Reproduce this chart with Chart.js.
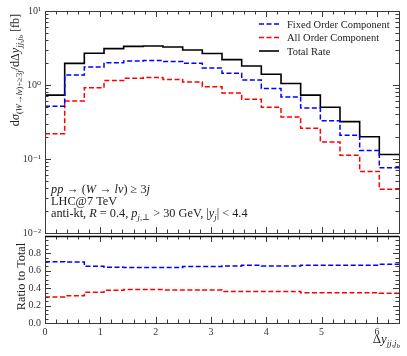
<!DOCTYPE html>
<html>
<head>
<meta charset="utf-8">
<script src="https://cdn.jsdelivr.net/npm/chart.js@4.4.0/dist/chart.umd.min.js"></script>
<style>
  body { margin: 0; background: #fff; width: 407px; height: 356px; overflow: hidden; position: relative; }
  canvas { position: absolute; left: 0; }
  #mainChart { top: 0; }
  #ratioChart { top: 226px; }
</style>
</head>
<body>
<canvas id="mainChart" width="407" height="245"></canvas>
<canvas id="ratioChart" width="407" height="130"></canvas>
<script>
// bin edges in delta y (18 bins)
const binEdges = [0, 0.356, 0.711, 1.067, 1.422, 1.778, 2.133, 2.489, 2.844, 3.2,
                  3.556, 3.911, 4.267, 4.622, 4.978, 5.333, 5.689, 6.044, 6.4];

const totalRate  = [0.73, 1.96, 2.68, 3.10, 3.33, 3.37, 3.26, 2.97, 2.66,
                    2.20, 1.81, 1.40, 1.05, 0.73, 0.50, 0.32, 0.20, 0.115];
const fixedOrder = [0.515, 1.36, 1.75, 2.00, 2.11, 2.14, 2.07, 1.96, 1.70,
                    1.44, 1.17, 0.90, 0.69, 0.49, 0.33, 0.21, 0.13, 0.076];
const allOrder   = [0.22, 0.61, 0.92, 1.15, 1.23, 1.26, 1.19, 1.10, 0.95,
                    0.78, 0.64, 0.50, 0.37, 0.26, 0.17, 0.112, 0.068, 0.039];

const ratioFixed = [0.704, 0.700, 0.652, 0.641, 0.638, 0.637, 0.637, 0.648, 0.648,
                    0.656, 0.663, 0.656, 0.656, 0.663, 0.663, 0.663, 0.663, 0.675];
const ratioAll   = [0.300, 0.313, 0.354, 0.376, 0.384, 0.384, 0.380, 0.380, 0.378,
                    0.362, 0.362, 0.362, 0.362, 0.347, 0.347, 0.347, 0.347, 0.343];

const xTicks = [0, 1, 2, 3, 4, 5, 6];
const logTicks = [0.01, 0.1, 1, 10];
const logTickLabels = ['10\u207B\u00B2', '10\u207B\u00B9', '10\u2070', '10\u00B9'];
const ratioTicks = [0, 0.2, 0.4, 0.6, 0.8];

const FONT = '"Liberation Serif", "DejaVu Serif", serif';
const BLUE = '#0000ff', RED = '#ff0000', BLACK = '#000000';
const DASH = [5, 2.5];

// histogram as step line: left edges + closing point at right edge
function steps(vals) {
  const pts = vals.map((v, i) => ({ x: binEdges[i], y: v }));
  pts.push({ x: binEdges[binEdges.length - 1], y: vals[vals.length - 1] });
  return pts;
}

function ds(label, vals, color, dash, width) {
  return {
    label, data: steps(vals), borderColor: color, borderDash: dash,
    borderWidth: width, stepped: true, pointRadius: 0, fill: false
  };
}

// text with italic / subscript pieces
function partFont(kind, size) {
  let fs = size, off = 0;
  if (kind.startsWith('ss')) { fs = size * 0.55; off = size * 0.36; }
  else if (kind.startsWith('s')) { fs = size * 0.7; off = size * 0.22; }
  const it = kind.endsWith('i');
  return { font: (it ? 'italic ' : '') + fs.toFixed(2) + 'px ' + FONT, off };
}
function richWidth(ctx, parts, size) {
  let w = 0;
  for (const [t, k] of parts) { ctx.font = partFont(k, size).font; w += ctx.measureText(t).width; }
  return w;
}
function drawRich(ctx, parts, x, y, size) {
  let cx = x;
  for (const [t, k] of parts) {
    const f = partFont(k, size);
    ctx.font = f.font;
    ctx.fillText(t, cx, y + f.off);
    cx += ctx.measureText(t).width;
  }
}

function line(ctx, x1, y1, x2, y2) {
  ctx.beginPath(); ctx.moveTo(x1, y1); ctx.lineTo(x2, y2); ctx.stroke();
}

// frame plus inward ticks on all sides
function frameTicks(yMajor, yMinor) {
  return {
    id: 'frameTicks',
    afterDatasetsDraw(chart) {
      const { ctx, chartArea: a, scales: { x, y } } = chart;
      ctx.save();
      ctx.strokeStyle = '#3a3a3a';
      ctx.lineWidth = 1;
      ctx.strokeRect(Math.round(a.left) + 0.5, Math.round(a.top) + 0.5,
                     Math.round(a.right - a.left), Math.round(a.bottom - a.top));
      for (let i = 0; i <= 32; i++) {
        const v = i * 0.2;
        const len = i % 5 === 0 ? 6 : 3.5;
        const px = Math.round(x.getPixelForValue(v)) + 0.5;
        line(ctx, px, a.bottom, px, a.bottom - len);
        line(ctx, px, a.top, px, a.top + len);
      }
      const yt = (vals, len) => vals.forEach(v => {
        const py = Math.round(y.getPixelForValue(v)) + 0.5;
        line(ctx, a.left, py, a.left + len, py);
        line(ctx, a.right, py, a.right - len, py);
      });
      yt(yMajor, 6);
      yt(yMinor, 3.5);
      ctx.restore();
    }
  };
}

const logMinor = [];
[0.01, 0.1, 1].forEach(d => { for (let m = 2; m <= 9; m++) logMinor.push(d * m); });
const ratioMinor = [];
for (let i = 1; i < 20; i++) if (i % 4 !== 0) ratioMinor.push(i * 0.05);

const mainLabels = {
  id: 'mainLabels',
  afterDraw(chart) {
    const ctx = chart.ctx;
    ctx.save();
    ctx.fillStyle = '#222';
    ctx.textBaseline = 'alphabetic';

    // y title
    const yTitle = [['d', 'n'], ['\u03C3', 'i'], ['(', 'sn'], ['W', 'si'], ['\u2192', 'sn'],
      ['l\u03BD', 'si'], [')+\u22653', 'sn'], ['j', 'si'], ['/d\u0394', 'n'], ['y', 'i'],
      ['jj,j', 'si'], ['b', 'ssi'], [' [fb]', 'n']];
    ctx.save();
    ctx.translate(19, 70);
    ctx.rotate(-Math.PI / 2);
    drawRich(ctx, yTitle, -richWidth(ctx, yTitle, 12.2) / 2, 0, 12.2);
    ctx.restore();

    // process text
    const l1 = [['pp', 'i'], [' \u2192 (', 'n'], ['W', 'i'], [' \u2192 ', 'n'], ['l\u03BD', 'i'],
      [') \u2265 3', 'n'], ['j', 'i']];
    const l2 = [['LHC@7 TeV', 'n']];
    const l3 = [['anti-kt, ', 'n'], ['R', 'i'], [' = 0.4, ', 'n'], ['p', 'i'], ['j,\u22A5', 'si'],
      [' > 30 GeV, |', 'n'], ['y', 'i'], ['j', 'si'], ['| < 4.4', 'n']];
    drawRich(ctx, l1, 51, 193, 12.3);
    drawRich(ctx, l2, 51, 205, 12.3);
    drawRich(ctx, l3, 51, 217, 12.3);

    // legend
    const items = chart.data.datasets;
    const ys = [24, 37.5, 51];
    items.forEach((d, i) => {
      ctx.strokeStyle = d.borderColor;
      ctx.lineWidth = d.borderWidth;
      ctx.setLineDash(d.borderDash || []);
      line(ctx, 259, ys[i], 279, ys[i]);
      ctx.setLineDash([]);
      ctx.fillStyle = '#222';
      ctx.font = '10.5px ' + FONT;
      ctx.fillText(d.label, 287, ys[i] + 3.5);
    });
    ctx.restore();
  }
};

const ratioLabels = {
  id: 'ratioLabels',
  afterDraw(chart) {
    const { ctx, chartArea: a } = chart;
    ctx.save();
    // divider between panels
    ctx.strokeStyle = '#000';
    ctx.lineWidth = 1.5;
    line(ctx, a.left, a.top + 0.5, a.right, a.top + 0.5);
    ctx.fillStyle = '#222';
    ctx.font = '12.3px ' + FONT;
    ctx.save();
    ctx.translate(25, (a.top + a.bottom) / 2 - 3);
    ctx.rotate(-Math.PI / 2);
    ctx.textAlign = 'center';
    ctx.fillText('Ratio to Total', 0, 0);
    ctx.restore();
    const xTitle = [['\u0394', 'n'], ['y', 'i'], ['jj,j', 'si'], ['b', 'ssi']];
    drawRich(ctx, xTitle, a.right + 1 - richWidth(ctx, xTitle, 12.8), 117, 12.8);
    ctx.restore();
  }
};

const tickFont = { family: FONT, size: 10 };

new Chart(document.getElementById('mainChart'), {
  type: 'line',
  data: {
    datasets: [
      ds('Fixed Order Component', fixedOrder, BLUE, DASH, 1.5),
      ds('All Order Component', allOrder, RED, DASH, 1.5),
      ds('Total Rate', totalRate, BLACK, [], 1.6)
    ]
  },
  options: {
    responsive: false, animation: false, devicePixelRatio: 1,
    layout: { padding: { top: 11, right: 8, bottom: 12, left: 0 } },
    plugins: { legend: { display: false }, tooltip: { enabled: false } },
    scales: {
      x: { type: 'linear', min: 0, max: 6.4, display: false },
      y: {
        type: 'logarithmic', min: 0.01, max: 10,
        afterFit(s) { s.width = 45; },
        afterBuildTicks(s) { s.ticks = logTicks.map(v => ({ value: v })); },
        ticks: {
          callback: (v) => logTickLabels[logTicks.findIndex(t => Math.abs(t - v) < 1e-9)],
          font: tickFont, color: '#333', padding: 4
        },
        grid: { display: false, drawTicks: false },
        border: { display: false }
      }
    }
  },
  plugins: [frameTicks(logTicks, logMinor), mainLabels]
});

new Chart(document.getElementById('ratioChart'), {
  type: 'line',
  data: {
    datasets: [
      ds('Fixed Order Component', ratioFixed, BLUE, DASH, 1.5),
      ds('All Order Component', ratioAll, RED, DASH, 1.5)
    ]
  },
  options: {
    responsive: false, animation: false, devicePixelRatio: 1,
    layout: { padding: { top: 7, right: 8, bottom: 0, left: 0 } },
    plugins: { legend: { display: false }, tooltip: { enabled: false } },
    scales: {
      x: {
        type: 'linear', min: 0, max: 6.4,
        afterFit(s) { s.height = 33; },
        afterBuildTicks(s) { s.ticks = xTicks.map(v => ({ value: v })); },
        ticks: { font: tickFont, color: '#333', padding: 3, maxRotation: 0 },
        grid: { display: false, drawTicks: false },
        border: { display: false }
      },
      y: {
        type: 'linear', min: 0, max: 1,
        afterFit(s) { s.width = 45; },
        afterBuildTicks(s) { s.ticks = ratioTicks.map(v => ({ value: v })); },
        ticks: { callback: (v) => v.toFixed(1), font: tickFont, color: '#333', padding: 4 },
        grid: { display: false, drawTicks: false },
        border: { display: false }
      }
    }
  },
  plugins: [frameTicks(ratioTicks, ratioMinor), ratioLabels]
});
</script>
</body>
</html>
